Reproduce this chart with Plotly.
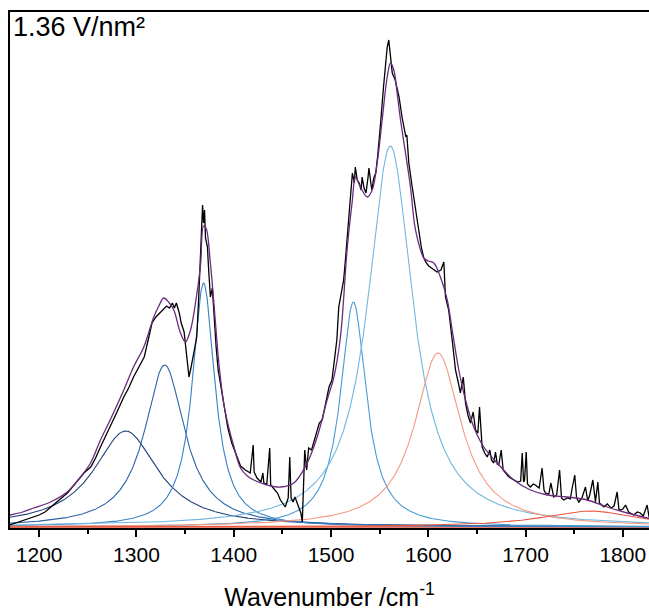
import plotly.graph_objects as go
import numpy as np

spec_wn = [1170, 1176, 1182, 1188, 1194, 1200, 1206, 1212, 1218, 1224, 1229, 1235, 1240, 1246, 1253,
           1258, 1263, 1268, 1273, 1280, 1287, 1292, 1297, 1302, 1308, 1313, 1316, 1320, 1324, 1328,
           1331, 1334, 1337, 1339, 1341, 1344, 1346, 1349, 1351, 1354, 1356, 1359, 1362, 1364, 1366,
           1367, 1368, 1369, 1370, 1371, 1373, 1374, 1376, 1378, 1380, 1382, 1384, 1387, 1390, 1394,
           1398, 1402, 1407, 1412, 1417, 1420, 1421, 1424, 1428, 1430, 1431, 1434, 1437, 1438, 1441,
           1445, 1448, 1451, 1453, 1456, 1457.6, 1459, 1461, 1463, 1465, 1467, 1469, 1470.5, 1472, 1473,
           1475, 1477, 1480, 1482, 1485, 1488, 1491, 1494, 1498, 1501, 1504, 1506, 1508, 1511, 1513,
           1515, 1517, 1520, 1522, 1524, 1525, 1527, 1529, 1531, 1532, 1534, 1536, 1538, 1539, 1541,
           1542, 1544, 1546, 1548, 1549, 1551, 1554, 1556, 1557.8, 1559.4, 1561, 1563, 1566, 1570, 1573,
           1575, 1577, 1578, 1580, 1583.5, 1587, 1590, 1593, 1595.4, 1598, 1600.5, 1605, 1609, 1613, 1616,
           1617.7, 1621, 1624.6, 1628, 1631, 1633, 1636, 1638.3, 1641, 1643.4, 1646.2, 1648.6, 1651, 1652.7,
           1655.4, 1658, 1660.6, 1663.3, 1665, 1667.4, 1669.1, 1671, 1672.5, 1675, 1677, 1679.4, 1682, 1684.5,
           1688, 1692, 1695, 1696.6, 1698, 1699, 1700.7, 1702, 1705, 1708, 1710, 1714, 1717, 1719, 1720.5,
           1724, 1726, 1729, 1732, 1735, 1737, 1739.3, 1743, 1746, 1748, 1750.6, 1752.5, 1754.8, 1758,
           1761.6, 1764, 1766, 1769.2, 1771.9, 1774.3, 1776, 1780.5, 1784, 1788, 1791, 1794.2, 1796, 1797.6,
           1800, 1802.8, 1806, 1811, 1815, 1818, 1821, 1825, 1827, 1830]
spec_int = [3, 5, 7, 9, 11, 13, 16, 21, 26, 31, 35, 42, 48, 55, 61,
            70, 81, 91, 101, 116, 131, 140, 151, 160, 171, 192, 205, 211, 215, 220,
            222, 220, 225, 220, 225, 215, 205, 196, 180, 151, 160, 175, 191, 230, 275,
            300, 323, 305, 318, 290, 281, 262, 231, 240, 208, 180, 158, 140, 120, 100,
            85, 74, 62, 58, 55, 83, 56, 50, 46, 55, 45, 44, 80, 43, 40,
            35, 28, 24, 21, 30, 71, 30, 26, 31, 25, 21, 15, 6, 40, 78,
            58, 80, 78, 85, 95, 105, 108, 121, 141, 148, 170, 188, 221, 240, 248,
            270, 295, 335, 355, 345, 361, 348, 345, 338, 351, 340, 335, 350, 360, 345,
            338, 350, 355, 372, 381, 405, 441, 465, 481, 488, 475, 455, 448, 431, 411,
            400, 391, 393, 365, 341, 318, 295, 280, 270, 265, 262, 259, 256, 258, 266,
            231, 218, 188, 158, 145, 135, 151, 125, 112, 105, 116, 98, 95, 121,
            81, 75, 71, 78, 68, 65, 76, 64, 63, 78, 58, 55, 52, 50,
            48, 46, 47, 75, 46, 48, 76, 44, 41, 44, 43, 40, 60, 38, 35,
            34, 45, 31, 33, 58, 30, 28, 30, 29, 40, 53, 30, 26, 30,
            41, 27, 33, 48, 26, 46, 25, 21, 24, 20, 22, 36, 19, 18,
            19, 23, 16, 13, 16, 15, 12, 23, 11, 12]

# ---- cumulative fit curve (wavenumber, intensity) ----
fit_wn = [1170, 1183, 1194.5, 1211.6, 1228.8, 1240, 1252.8, 1263, 1273, 1287, 1297, 1307.6, 1317.8,
          1323, 1328, 1333, 1338.4, 1345.3, 1350.4, 1355.6, 1360.7, 1365.8, 1369, 1371.5, 1376, 1381,
          1384.7, 1390, 1395, 1400, 1407, 1414, 1420.6, 1434.4, 1448, 1461.8, 1475.5, 1485.8, 1496,
          1502.8, 1509.7, 1516.7, 1521.8, 1525.2, 1530.3, 1537.2, 1542.4, 1547.5, 1552.6, 1557.8,
          1561.2, 1564.6, 1568, 1571.5, 1576.6, 1581.7, 1586, 1590, 1595.4, 1600, 1605.7, 1612.5,
          1619.5, 1624.6, 1631.4, 1638.3, 1646.8, 1657.1, 1670.9, 1688, 1705.1, 1722.3, 1742.8,
          1763.4, 1784, 1804.5, 1830]
fit_int = [13, 16, 20, 26, 36, 48, 65, 88, 108, 138, 161, 181, 211,
           222, 230, 226, 218, 195, 186, 198, 225, 262, 302, 300, 265, 208,
           165, 123, 100, 82, 60, 52, 48, 43, 41, 45, 65, 91, 128,
           150, 191, 280, 326, 351, 341, 331, 338, 365, 408, 451,
           465, 458, 435, 408, 375, 341, 303, 285, 270, 267, 265, 251,
           228, 198, 158, 128, 101, 81, 65, 48, 38, 33, 31,
           28, 21, 15, 9]

# ---- fitted Lorentzian components ----
peak_center = [1289, 1329, 1369, 1523, 1561, 1610, 1766]
peak_height = [96, 162, 244, 225, 381, 174, 16]
peak_hwhm = [40, 25, 14, 16, 28, 29, 60]
peak_color = ["#22427c", "#2c64a8", "#3783c6", "#4a9bd4", "#72b6df", "#f59a82", "#e8553c"]
baseline = 1.0

x_min, x_max = 1170, 1830
grid = np.linspace(x_min, x_max, 1321)

fig = go.Figure()

# baseline
fig.add_trace(go.Scatter(x=[x_min, x_max], y=[baseline, baseline], mode="lines",
                         line=dict(color="#e8553c", width=1.5), hoverinfo="skip"))

for c, h, w, col in zip(peak_center, peak_height, peak_hwhm, peak_color):
    comp = baseline + h / (1 + ((grid - c) / w) ** 2)
    fig.add_trace(go.Scatter(x=grid, y=comp, mode="lines",
                             line=dict(color=col, width=1.1), hoverinfo="skip"))

# measured spectrum
fig.add_trace(go.Scatter(x=spec_wn, y=spec_int, mode="lines",
                         line=dict(color="black", width=1.3), hoverinfo="skip"))
# cumulative fit
fig.add_trace(go.Scatter(x=fit_wn, y=fit_int, mode="lines", line_shape="spline",
                         line=dict(color="#6b2a7e", width=1.3, smoothing=1.0), hoverinfo="skip"))

fig.update_layout(
    width=649, height=611,
    margin=dict(l=10, r=0, t=12, b=83),
    paper_bgcolor="white", plot_bgcolor="white",
    showlegend=False,
    font=dict(family="Liberation Sans, Arial, sans-serif", color="black"),
    xaxis=dict(range=[x_min, x_min + 639 / 0.9727], showgrid=False, zeroline=False,
               showline=True, linecolor="black", linewidth=1.5, mirror=True,
               ticks="outside", ticklen=7, tickwidth=1.5, tickcolor="black",
               tickvals=[1200, 1300, 1400, 1500, 1600, 1700, 1800],
               minor=dict(ticks="outside", ticklen=4, tickwidth=1.5, dtick=50, tick0=1150,
                          tickcolor="black"),
               tickfont=dict(size=21),
               title=dict(text="Wavenumber /cm<sup>-1</sup>", font=dict(size=25), standoff=26)),
    yaxis=dict(range=[0, 516], showgrid=False, zeroline=False, showticklabels=False,
               showline=True, linecolor="black", linewidth=1.5, mirror=False, ticks=""),
    annotations=[dict(text="1.36 V/nm²", xref="paper", yref="paper", x=0, y=1,
                      xanchor="left", yanchor="top", showarrow=False, xshift=1, yshift=2,
                      font=dict(size=27, color="black"))],
)

fig.write_html("out.html")
